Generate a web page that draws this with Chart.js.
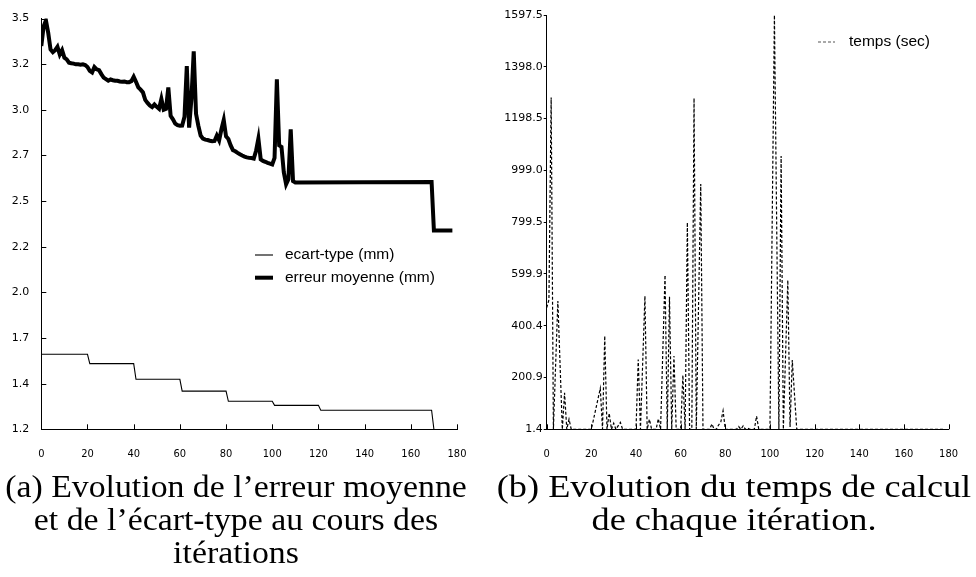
<!DOCTYPE html>
<html>
<head>
<meta charset="utf-8">
<script src="https://cdn.jsdelivr.net/npm/chart.js@4.4.1/dist/chart.umd.min.js"></script>
<style>
  html, body { margin: 0; padding: 0; background: #fff; }
  body { width: 976px; height: 577px; position: relative; overflow: hidden; }
  .panel { position: absolute; top: 0; width: 488px; height: 470px; }
  .caption {
    position: absolute; top: 470px; width: 488px;
    font-family: "Liberation Serif", "DejaVu Serif", serif;
    font-size: 31px; line-height: 33px; text-align: center; color: #000;
    transform-origin: 50% 0;
  }
</style>
</head>
<body>
<div class="panel" style="left:0"><canvas id="errChart" width="488" height="470"></canvas></div>
<div class="panel" style="left:488px"><canvas id="timeChart" width="488" height="470"></canvas></div>
<div class="caption" style="left:-8px; transform: scaleX(1.09)">(a) Evolution de l’erreur moyenne<br>et de l’écart-type au cours des<br>itérations</div>
<div class="caption" style="left:490px; transform: scaleX(1.17)">(b) Evolution du temps de calcul<br>de chaque itération.</div>

<script>
// ---- data: iteration numbers and values (vertices of each polyline) ----
const ecartIter = [0, 20, 21, 40, 41, 60, 61, 80, 81, 100, 101, 120, 121, 169, 170];
const ecartVal  = [1.62, 1.62, 1.568, 1.568, 1.48, 1.48, 1.414, 1.414, 1.357, 1.357, 1.334, 1.334, 1.307, 1.307, 1.2];

const erreurIter = [
  0, 1, 2, 3, 4, 5, 6, 7, 8, 9, 10, 11, 12, 13, 14, 15, 16, 17, 18, 19,
  20, 21, 22, 23, 24, 25, 26, 27, 28, 29, 30, 31, 32, 33, 34, 35, 36, 37, 38, 39,
  40, 41, 42, 43, 44, 45, 46, 47, 48, 49, 50, 51, 52, 53, 54, 55, 56, 57, 58, 59,
  60, 61, 62, 63, 64, 65, 66, 67, 68, 69, 70, 71, 72, 73, 74, 75, 76, 77, 78, 79,
  80, 81, 82, 83, 84, 85, 86, 87, 88, 89, 90, 91, 92, 93, 94, 95, 96, 97, 98, 99,
  100, 101, 102, 103, 104, 105, 106, 107, 108, 109, 110, 169, 170, 178
];
const erreurVal = [
  3.346, 3.456, 3.49, 3.42, 3.327, 3.312, 3.323, 3.342, 3.299, 3.323,
  3.281, 3.272, 3.253, 3.250, 3.248, 3.244, 3.244, 3.242, 3.244, 3.240,
  3.229, 3.207, 3.198, 3.229, 3.216, 3.211, 3.189, 3.170, 3.161, 3.152,
  3.159, 3.155, 3.152, 3.152, 3.148, 3.146, 3.148, 3.144, 3.144, 3.150,
  3.174, 3.146, 3.115, 3.102, 3.087, 3.045, 3.028, 3.013, 3.004, 3.019,
  3.006, 2.995, 3.050, 2.990, 2.995, 3.114, 2.955, 2.936, 2.912, 2.903,
  2.900, 2.901, 2.950, 3.234, 2.889, 3.050, 3.317, 2.967, 2.900, 2.845,
  2.828, 2.822, 2.820, 2.816, 2.813, 2.815, 2.845, 2.818, 2.880, 2.932,
  2.840, 2.826, 2.790, 2.763, 2.757, 2.748, 2.740, 2.733, 2.727, 2.723,
  2.720, 2.719, 2.716, 2.760, 2.828, 2.712, 2.703, 2.698, 2.692, 2.688,
  2.683, 2.720, 3.160, 2.790, 2.782, 2.640, 2.572, 2.600, 2.880, 2.590,
  2.582, 2.585, 2.314, 2.314
];

const tempsIter = [
  0, 1, 2, 3, 5, 7, 8, 9, 10, 11, 20, 24, 25, 26, 27, 28, 29, 30, 31, 33, 34,
  40, 41, 42, 44, 45, 46, 47, 49, 50, 51, 53, 54, 55, 56, 57, 58, 60, 61, 62,
  63, 64, 65, 66, 67, 69, 70, 73, 74, 75, 76, 77, 78, 79, 80,
  85, 86, 87, 88, 89, 90, 91, 93, 94, 95, 100, 102, 104, 105, 106, 108, 109, 110, 112, 178
];
const tempsVal = [
  470, 500, 1280, 1.4, 496, 1.4, 142, 1.4, 40, 1.4, 1.4, 159, 1.4, 361, 1.4, 63, 1.4, 25, 1.4, 28, 1.4,
  1.4, 270, 1.4, 515, 1.4, 40, 1.4, 1.4, 42, 1.4, 595, 1.4, 512, 1.4, 284, 1.4, 1.4, 210, 1.4,
  798, 1.4, 1.4, 1277, 1.4, 946, 1.4, 1.4, 22, 1.4, 1.4, 18, 30, 73, 1.4,
  1.4, 12, 1.4, 15, 1.4, 6, 1.4, 1.4, 52, 1.4, 1.4, 1597, 1.4, 1054, 1.4, 576, 10, 268, 1.4, 1.4
];

// tick labels
const erreurTickLabels = ['1.2', '1.4', '1.7', '2.0', '2.2', '2.5', '2.7', '3.0', '3.2', '3.5'];
const tempsTickLabels = ['1.4', '200.9', '400.4', '599.9', '799.5', '999.0', '1198.5', '1398.0', '1597.5'];

const ERR_MIN = 1.2, ERR_MAX = 3.5;
const TEMPS_MIN = 1.4, TEMPS_MAX = 1597.5;

const pts = (xs, ys) => xs.map((x, i) => ({ x: x, y: ys[i] }));

// ---- plugins ----
// short tick marks drawn inward from the axis lines
const innerTicks = {
  id: 'innerTicks',
  afterDraw(chart, args, opts) {
    const ctx = chart.ctx, a = chart.chartArea;
    ctx.save();
    ctx.strokeStyle = '#000';
    ctx.lineWidth = 1;
    (opts.axes || []).forEach(id => {
      const s = chart.scales[id];
      s.ticks.forEach((t, i) => {
        const p = Math.round(s.getPixelForTick(i)) + 0.5;
        ctx.beginPath();
        if (s.isHorizontal()) {
          ctx.moveTo(p, a.bottom);
          ctx.lineTo(p, a.bottom - opts.length);
        } else {
          ctx.moveTo(a.left, p);
          ctx.lineTo(a.left + opts.length, p);
        }
        ctx.stroke();
      });
    });
    ctx.restore();
  }
};

// legend placed inside the plot
const boxLegend = {
  id: 'boxLegend',
  afterDraw(chart, args, opts) {
    const ctx = chart.ctx;
    ctx.save();
    ctx.font = opts.font;
    ctx.textBaseline = 'middle';
    ctx.fillStyle = '#000';
    chart.data.datasets.forEach((ds, i) => {
      const y = opts.y + i * opts.rowGap;
      ctx.beginPath();
      ctx.lineWidth = ds.borderWidth;
      ctx.strokeStyle = opts.sampleColor || ds.borderColor;
      ctx.setLineDash(ds.borderDash || []);
      ctx.moveTo(opts.x, y);
      ctx.lineTo(opts.x + opts.sample, y);
      ctx.stroke();
      ctx.setLineDash([]);
      ctx.fillText(ds.label, opts.x + opts.sample + opts.gap, y);
    });
    ctx.restore();
  }
};

const yFont = { family: '"DejaVu Sans", sans-serif', size: 11 };
const xFont = { family: '"Liberation Sans Narrow", "DejaVu Sans Condensed", "Liberation Sans", sans-serif', size: 11 };
const legendFont = '15.5px "Liberation Sans", Arial, sans-serif';

function xAxis(height) {
  return {
    type: 'linear', min: 0, max: 180,
    ticks: { stepSize: 20, color: '#000', font: xFont, padding: 18, maxRotation: 0 },
    grid: { drawOnChartArea: false, drawTicks: false },
    border: { display: true, color: '#000', width: 1 },
    afterFit(s) { s.height = height; }
  };
}

// ---- (a) erreur moyenne / écart-type ----
new Chart(document.getElementById('errChart'), {
  type: 'line',
  data: {
    datasets: [
      {
        label: 'ecart-type (mm)',
        data: pts(ecartIter, ecartVal),
        borderColor: '#000', borderWidth: 1.1,
        pointRadius: 0, tension: 0, fill: false
      },
      {
        label: 'erreur moyenne (mm)',
        data: pts(erreurIter, erreurVal),
        borderColor: '#000', borderWidth: 4,
        pointRadius: 0, tension: 0, fill: false
      }
    ]
  },
  options: {
    responsive: false, animation: false, events: [],
    layout: { padding: { top: 14, right: 31, left: 0, bottom: 0 } },
    scales: {
      x: xAxis(40.7),
      y: {
        type: 'linear', min: ERR_MIN, max: ERR_MAX,
        afterBuildTicks(s) {
          const n = erreurTickLabels.length;
          s.ticks = erreurTickLabels.map((l, i) => ({ value: ERR_MIN + i * (ERR_MAX - ERR_MIN) / (n - 1) }));
        },
        ticks: { color: '#000', font: yFont, padding: 12, callback: (v, i) => erreurTickLabels[i] },
        grid: { drawOnChartArea: false, drawTicks: false },
        border: { display: true, color: '#000', width: 1 },
        afterFit(s) { s.width = 41.3; }
      }
    },
    plugins: {
      legend: { display: false }, tooltip: { enabled: false },
      innerTicks: { axes: ['x', 'y'], length: 5 },
      boxLegend: { x: 255, y: 255, rowGap: 22.7, sample: 18, gap: 12, font: legendFont }
    }
  },
  plugins: [innerTicks, boxLegend]
});

// ---- (b) temps de calcul ----
new Chart(document.getElementById('timeChart'), {
  type: 'line',
  data: {
    datasets: [
      {
        label: 'temps (sec)',
        data: pts(tempsIter, tempsVal),
        borderColor: '#000', borderWidth: 1.2, borderDash: [3, 2],
        pointRadius: 0, tension: 0, fill: false
      }
    ]
  },
  options: {
    responsive: false, animation: false, events: [],
    layout: { padding: { top: 15, right: 14.3, left: 0, bottom: 0 } },
    scales: {
      x: xAxis(40.7),
      y: {
        type: 'linear', min: TEMPS_MIN, max: TEMPS_MAX,
        afterBuildTicks(s) {
          s.ticks = tempsTickLabels.map(l => ({ value: parseFloat(l) }));
        },
        ticks: { color: '#000', font: yFont, padding: 1, callback: (v, i) => tempsTickLabels[i] },
        grid: { drawOnChartArea: false, drawTicks: true, tickLength: 3, color: '#000' },
        border: { display: true, color: '#000', width: 1 },
        afterFit(s) { s.width = 58.7; }
      }
    },
    plugins: {
      legend: { display: false }, tooltip: { enabled: false },
      innerTicks: { axes: ['x'], length: 5 },
      boxLegend: { x: 330, y: 42, rowGap: 22.7, sample: 17, gap: 14, font: legendFont, sampleColor: '#555' }
    }
  },
  plugins: [innerTicks, boxLegend]
});
</script>
</body>
</html>
